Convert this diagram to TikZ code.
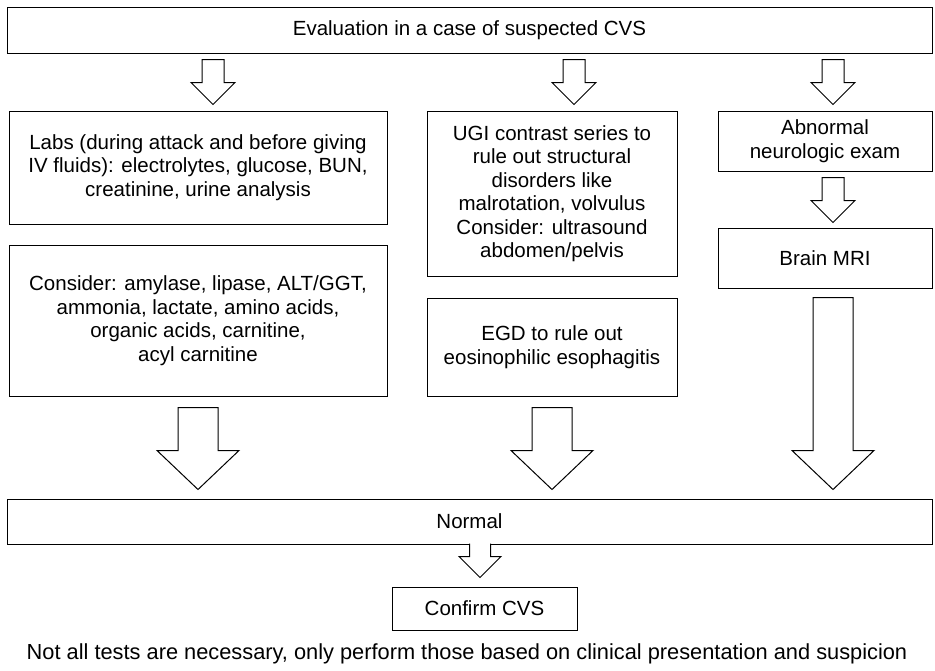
\documentclass[tikz,border=0pt]{standalone}
\usepackage{fontspec}
\setmainfont{Liberation Sans}
\usetikzlibrary{calc}

\begin{document}
\begin{tikzpicture}[x=1pt, y=-1pt, line width=1pt, font=\fontsize{20.5}{23.5}\selectfont,
	main/.style = {draw, rectangle, align=center, inner sep=0pt},
	blk/.style n args = {3}{fill=white, to path={let \p1=(\tikztostart), \p2=(\tikztotarget) in
		(\x2-#1,\y1) -- (\x2-#1,\y2+#3) -- (\x2-#2,\y2+#3) -- (\x2,\y2) -- (\x2+#2,\y2+#3) -- (\x2+#1,\y2+#3) -- (\x2+#1,\y1) -- cycle}},
	openblk/.style n args = {3}{fill=white, to path={let \p1=(\tikztostart), \p2=(\tikztotarget) in
		(\x2-#1,\y1) -- (\x2-#1,\y2+#3) -- (\x2-#2,\y2+#3) -- (\x2,\y2) -- (\x2+#2,\y2+#3) -- (\x2+#1,\y2+#3) -- (\x2+#1,\y1)}},
	small/.style = {blk={11pt}{22pt}{22pt}},
	big/.style = {blk={20pt}{41pt}{39pt}}]
	\useasboundingbox (0,0) rectangle (935,670);
	\node[main, minimum width=925pt, minimum height=46pt] (1) at (469.5,30) {Evaluation in a case of suspected CVS};
	\node[main, minimum width=378pt, minimum height=113pt] (2) at (198,167.5) {Labs (during attack and before giving\\IV fluids): electrolytes, glucose, BUN,\\creatinine, urine analysis};
	\node[main, minimum width=378pt, minimum height=151pt] (3) at (198,320.5) {Consider: amylase, lipase, ALT/GGT,\\ammonia, lactate, amino acids,\\organic acids, carnitine,\\acyl carnitine};
	\node[main, minimum width=250pt, minimum height=165pt] (4) at (552,193.5) {UGI contrast series to\\rule out structural\\disorders like\\malrotation, volvulus\\Consider: ultrasound\\abdomen/pelvis};
	\node[main, minimum width=250pt, minimum height=98pt] (5) at (552,347) {EGD to rule out\\eosinophilic esophagitis};
	\node[main, minimum width=214pt, minimum height=60pt] (6) at (825,141) {Abnormal\\neurologic exam};
	\node[main, minimum width=214pt, minimum height=60pt] (7) at (825,258) {Brain MRI};
	\node[main, minimum width=925pt, minimum height=45pt] (8) at (469.5,521.5) {Normal};
	\node[main, minimum width=185pt, minimum height=43pt] (9) at (484.5,608.5) {Confirm CVS};
	\node[font=\fontsize{21.8}{24}\selectfont] (10) at (467,654) {Not all tests are necessary, only perform those based on clinical presentation and suspicion};
	\draw[small] ([yshift=-6pt]1.south) to ([xshift=15pt,yshift=6pt]2.north);
	\draw[small] ([yshift=-6pt]1.south) to ([xshift=22pt,yshift=6pt]4.north);
	\draw[small] ([yshift=-6pt]1.south) to ([xshift=8pt,yshift=6pt]6.north);
	\draw[small] ([yshift=-6pt]6.south) to ([xshift=8pt,yshift=5pt]7.north);
	\draw[big] ([yshift=-11pt]3.south) to ([xshift=-271.5pt,yshift=9pt]8.north);
	\draw[big] ([yshift=-11pt]5.south) to ([xshift=82.5pt,yshift=9pt]8.north);
	\draw[big] ([yshift=-9pt]7.south) to ([xshift=363.5pt,yshift=9pt]8.north);
	\draw[openblk={10.5pt}{21pt}{21pt}] ([yshift=1pt]8.south) to ([xshift=-4.5pt,yshift=9pt]9.north);
\end{tikzpicture}
\end{document}
